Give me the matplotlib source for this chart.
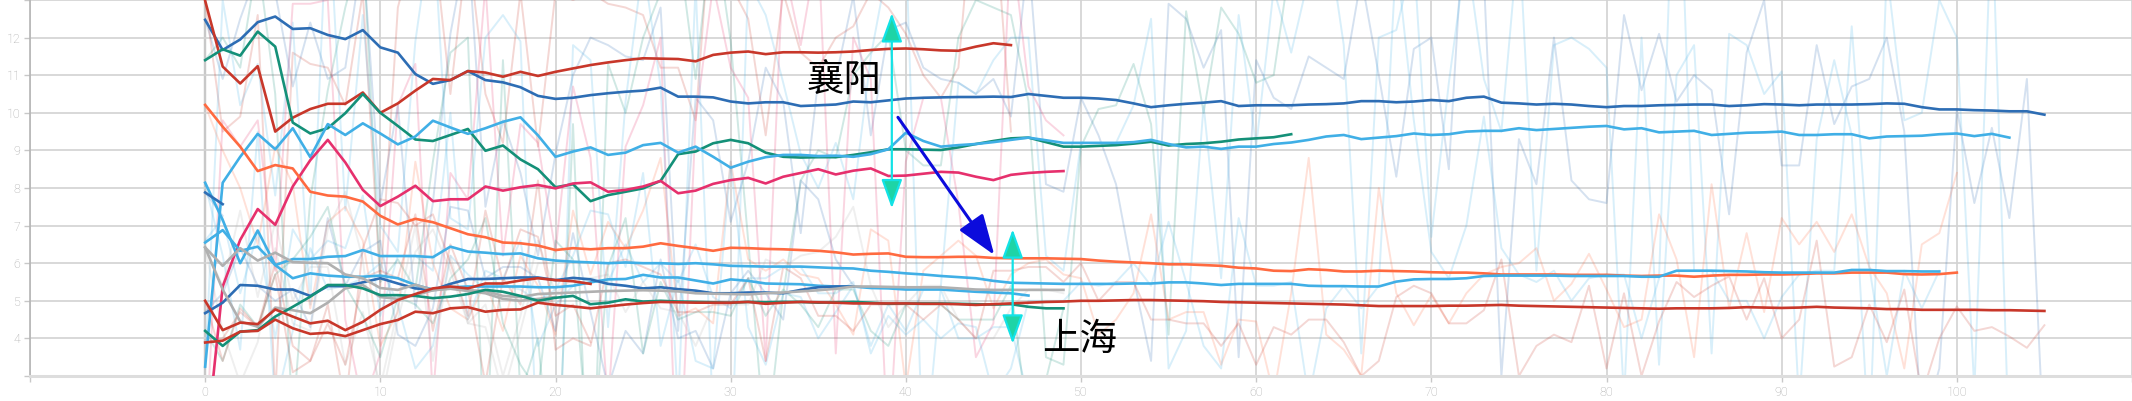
import matplotlib
matplotlib.use("Agg")
import matplotlib.pyplot as plt

# running averages (bold lines), one value per step
dark_blue = [12.47, 11.67, 11.95, 12.41, 12.56, 12.23, 12.25, 12.07, 11.96, 12.2,
             11.74, 11.6, 11.03, 10.77, 10.87, 11.11, 10.87, 10.81, 10.68, 10.45,
             10.37, 10.4, 10.47, 10.52, 10.56, 10.59, 10.67, 10.43, 10.43, 10.41,
             10.3, 10.25, 10.28, 10.28, 10.18, 10.2, 10.22, 10.3, 10.28, 10.33,
             10.38, 10.4, 10.41, 10.42, 10.42, 10.43, 10.42, 10.5, 10.45, 10.4,
             10.4, 10.38, 10.34, 10.25, 10.15, 10.2, 10.24, 10.27, 10.31, 10.18,
             10.2, 10.2, 10.2, 10.22, 10.23, 10.25, 10.31, 10.31, 10.28, 10.3,
             10.34, 10.31, 10.4, 10.43, 10.27, 10.25, 10.22, 10.24, 10.22, 10.18,
             10.15, 10.18, 10.18, 10.2, 10.21, 10.22, 10.22, 10.18, 10.2, 10.23,
             10.22, 10.2, 10.22, 10.22, 10.22, 10.23, 10.25, 10.24, 10.15, 10.09,
             10.09, 10.07, 10.06, 10.04, 10.04, 9.95]
red_top = [12.98, 11.23, 10.78, 11.24, 9.5, 9.87, 10.1, 10.24, 10.24, 10.54,
           10.0, 10.25, 10.59, 10.9, 10.87, 11.11, 11.07, 10.96, 11.09, 10.98,
           11.09, 11.18, 11.27, 11.34, 11.4, 11.45, 11.44, 11.43, 11.37, 11.54,
           11.6, 11.63, 11.56, 11.61, 11.61, 11.6, 11.61, 11.63, 11.67, 11.7,
           11.71, 11.69, 11.66, 11.65, 11.76, 11.85, 11.8]
green = [11.4, 11.69, 11.52, 12.16, 11.76, 9.74, 9.45, 9.59, 9.99, 10.5,
         10.0, 9.65, 9.29, 9.25, 9.41, 9.57, 8.99, 9.13, 8.76, 8.5,
         8.02, 8.1, 7.65, 7.81, 7.9, 7.99, 8.19, 8.9, 8.97, 9.19,
         9.28, 9.19, 8.94, 8.83, 8.81, 8.82, 8.82, 8.88, 8.95, 9.03,
         9.03, 9.02, 9.01, 9.08, 9.17, 9.25, 9.32, 9.34, 9.22, 9.1,
         9.1, 9.12, 9.14, 9.18, 9.23, 9.13, 9.17, 9.19, 9.23, 9.29,
         9.32, 9.35, 9.43]
light_blue = [3.25, 8.14, 8.83, 9.44, 9.03, 9.59, 8.82, 9.7, 9.41, 9.72,
              9.45, 9.16, 9.37, 9.79, 9.61, 9.44, 9.59, 9.76, 9.88, 9.4,
              8.83, 8.97, 9.08, 8.88, 8.94, 9.14, 9.2, 8.94, 9.1, 8.83,
              8.54, 8.7, 8.82, 8.88, 8.88, 8.85, 8.86, 8.83, 8.9, 9.03,
              9.47, 9.25, 9.1, 9.14, 9.17, 9.22, 9.28, 9.34, 9.27, 9.2,
              9.2, 9.2, 9.2, 9.22, 9.28, 9.17, 9.08, 9.1, 9.04, 9.1,
              9.1, 9.17, 9.21, 9.28, 9.37, 9.41, 9.3, 9.34, 9.38, 9.45,
              9.41, 9.43, 9.5, 9.52, 9.52, 9.59, 9.54, 9.57, 9.6, 9.63,
              9.65, 9.56, 9.59, 9.48, 9.5, 9.52, 9.41, 9.44, 9.47, 9.48,
              9.5, 9.41, 9.41, 9.43, 9.43, 9.32, 9.37, 9.38, 9.39, 9.43,
              9.45, 9.38, 9.44, 9.34]
pink = [0.9, 5.38, 6.62, 7.44, 7.02, 8.04, 8.74, 9.28, 8.68, 7.95,
        7.52, 7.77, 8.06, 7.65, 7.7, 7.7, 8.04, 7.93, 8.02, 8.08,
        7.99, 8.12, 8.15, 7.9, 7.95, 8.04, 8.19, 7.86, 7.93, 8.11,
        8.21, 8.27, 8.12, 8.3, 8.4, 8.5, 8.36, 8.46, 8.52, 8.32,
        8.33, 8.38, 8.43, 8.41, 8.3, 8.21, 8.35, 8.4, 8.43, 8.45]
orange = [10.21, 9.63, 9.1, 8.45, 8.61, 8.52, 7.9, 7.8, 7.77, 7.64,
          7.26, 7.03, 7.18, 7.09, 6.93, 6.77, 6.69, 6.55, 6.53, 6.47,
          6.35, 6.4, 6.37, 6.4, 6.4, 6.44, 6.53, 6.46, 6.4, 6.33,
          6.41, 6.4, 6.38, 6.37, 6.35, 6.33, 6.29, 6.23, 6.25, 6.26,
          6.17, 6.16, 6.16, 6.17, 6.17, 6.14, 6.13, 6.13, 6.13, 6.12,
          6.11, 6.07, 6.04, 6.02, 6.0, 5.97, 5.97, 5.95, 5.93, 5.88,
          5.86, 5.8, 5.79, 5.84, 5.82, 5.78, 5.78, 5.8, 5.79, 5.78,
          5.76, 5.75, 5.75, 5.73, 5.7, 5.7, 5.7, 5.7, 5.69, 5.69,
          5.69, 5.67, 5.66, 5.67, 5.67, 5.64, 5.67, 5.69, 5.69, 5.7,
          5.7, 5.71, 5.73, 5.73, 5.75, 5.75, 5.75, 5.71, 5.7, 5.71,
          5.75]
light_blue_2 = [6.55, 6.88, 6.33, 6.44, 5.95, 6.11, 6.11, 6.17, 6.19, 6.35,
                6.19, 6.19, 6.19, 6.16, 6.44, 6.31, 6.28, 6.24, 6.26, 6.13,
                6.07, 6.04, 6.02, 6.0, 6.02, 6.0, 6.0, 5.98, 6.0, 5.97,
                5.93, 5.92, 5.91, 5.91, 5.91, 5.89, 5.87, 5.86, 5.8, 5.77,
                5.73, 5.7, 5.66, 5.63, 5.6, 5.53, 5.48, 5.47, 5.46, 5.45,
                5.45, 5.45, 5.45, 5.46, 5.46, 5.49, 5.49, 5.46, 5.42, 5.45,
                5.45, 5.45, 5.45, 5.4, 5.39, 5.39, 5.38, 5.38, 5.51, 5.57,
                5.58, 5.58, 5.6, 5.66, 5.67, 5.67, 5.67, 5.67, 5.66, 5.66,
                5.66, 5.66, 5.64, 5.64, 5.8, 5.8, 5.8, 5.79, 5.78, 5.76,
                5.75, 5.75, 5.75, 5.75, 5.82, 5.82, 5.79, 5.79, 5.78, 5.78]
light_blue_3 = [8.14, 7.15, 6.0, 6.87, 5.95, 5.6, 5.73, 5.67, 5.64, 5.64,
                5.67, 5.6, 5.42, 5.3, 5.36, 5.38, 5.38, 5.38, 5.38, 5.36,
                5.36, 5.4, 5.49, 5.57, 5.58, 5.69, 5.62, 5.62, 5.54, 5.46,
                5.57, 5.53, 5.46, 5.45, 5.44, 5.4, 5.38, 5.38, 5.34, 5.33,
                5.3, 5.3, 5.3, 5.27, 5.24, 5.22, 5.2, 5.14]
dark_blue_2 = [4.67, 4.95, 5.42, 5.4, 5.3, 5.3, 5.13, 5.39, 5.39, 5.49,
               5.6, 5.46, 5.33, 5.29, 5.45, 5.58, 5.58, 5.6, 5.62, 5.62,
               5.55, 5.61, 5.57, 5.45, 5.4, 5.33, 5.36, 5.31, 5.27, 5.2,
               5.2, 5.22, 5.22, 5.2, 5.29, 5.36, 5.38, 5.38]
dark_blue_3 = [7.88, 7.57]
gray_a = [6.42, 5.93, 6.4, 6.07, 6.28, 6.03, 6.01, 6.0, 5.7, 5.6,
          5.34, 5.29, 5.43, 5.28, 5.34, 5.28, 5.26, 5.13, 5.1, 5.18,
          5.2, 5.22, 5.24, 5.26, 5.27, 5.28, 5.27, 5.25, 5.2, 5.19,
          5.18, 5.17, 5.2, 5.22, 5.25, 5.28, 5.32, 5.38, 5.38, 5.37,
          5.36, 5.36, 5.36, 5.33, 5.3, 5.29, 5.29, 5.29, 5.29, 5.29]
gray_b = [6.42, 5.3, 4.45, 4.31, 4.82, 4.75, 4.67, 4.95, 5.33, 5.42,
          5.1, 5.05, 5.15, 5.28, 5.32, 5.26, 5.2, 5.05, 5.0, 5.05, 5.1]
green_low = [4.2, 3.8, 4.18, 4.22, 4.58, 4.84, 5.11, 5.42, 5.42, 5.33,
             5.15, 5.15, 5.13, 5.07, 5.11, 5.18, 5.29, 5.24, 5.13, 5.0,
             5.08, 5.13, 4.91, 4.95, 5.04, 4.98, 5.0, 4.98, 4.97, 4.96,
             4.95, 4.97, 4.96, 4.97, 4.97, 4.95, 4.96, 4.97, 4.95, 4.92,
             4.93, 4.93, 4.93, 4.92, 4.91, 4.9, 4.91, 4.84, 4.8, 4.8]
red_low_1 = [5.0, 4.22, 4.42, 4.38, 4.77, 4.58, 4.4, 4.47, 4.22, 4.44,
             4.76, 5.02, 5.18, 5.33, 5.38, 5.33, 5.46, 5.46, 5.54, 5.6,
             5.55, 5.52, 5.45]
red_low_2 = [3.89, 3.94, 4.18, 4.2, 4.5, 4.27, 4.12, 4.15, 4.06, 4.22,
             4.38, 4.49, 4.71, 4.67, 4.8, 4.83, 4.71, 4.76, 4.77, 4.95,
             4.89, 4.85, 4.8, 4.85, 4.9, 4.94, 4.97, 4.96, 4.95, 4.95,
             4.95, 4.97, 4.92, 4.95, 4.97, 4.96, 4.95, 4.93, 4.93, 4.93,
             4.93, 4.92, 4.92, 4.91, 4.89, 4.91, 4.93, 4.95, 4.97, 4.98,
             5.0, 5.0, 5.01, 5.02, 5.02, 5.01, 5.0, 4.99, 4.97, 4.96,
             4.95, 4.94, 4.93, 4.92, 4.91, 4.9, 4.88, 4.86, 4.86, 4.86,
             4.86, 4.87, 4.87, 4.88, 4.89, 4.87, 4.86, 4.85, 4.84, 4.83,
             4.82, 4.81, 4.8, 4.79, 4.8, 4.8, 4.8, 4.81, 4.83, 4.82,
             4.81, 4.82, 4.84, 4.82, 4.81, 4.8, 4.78, 4.78, 4.76, 4.76,
             4.76, 4.76, 4.75, 4.75, 4.74, 4.73]

# raw values (faint lines)
raw_dark_blue = [12.5, 10.9, 12.5, 13.8, 13.2, 10.7, 12.4, 10.9, 11.2, 14.3,
                 7.6, 10.2, 4.8, 7.6, 12.1, 14.6, 7.5, 9.8, 8.4, 6.2,
                 8.9, 11.0, 12.0, 11.8, 11.5, 11.4, 12.8, 4.2, 10.4, 9.8,
                 7.1, 8.7, 11.2, 10.3, 6.8, 10.9, 10.9, 13.1, 9.4, 12.2,
                 12.4, 11.2, 10.9, 10.8, 10.5, 10.9, 9.9, 14.2, 8.1, 7.9,
                 10.4, 9.4, 8.1, 5.6, 3.4, 12.9, 12.5, 11.2, 12.2, 3.5,
                 11.4, 10.4, 10.1, 11.5, 11.2, 10.9, 13.6, 11.0, 8.3, 11.7,
                 12.0, 8.5, 16.2, 13.6, 3.0, 9.3, 8.1, 12.0, 8.2, 7.7,
                 7.6, 12.6, 10.6, 12.1, 10.3, 11.0, 10.6, 7.3, 11.6, 13.0,
                 8.6, 8.6, 11.8, 9.7, 10.7, 10.9, 12.0, 9.5, 1.5, 3.2,
                 10.1, 7.6, 9.6, 7.2, 10.9, 0.8]
raw_red_top = [12.98, 9.5, 9.9, 12.6, 2.5, 11.6, 11.3, 11.2, 10.2, 13.2,
               5.4, 12.8, 14.6, 14.8, 10.5, 14.5, 10.5, 9.2, 13.2, 9.1,
               13.2, 13.0, 13.2, 12.9, 12.8, 12.6, 11.2, 11.2, 9.8, 16.0,
               13.4, 12.5, 9.4, 13.2, 11.6, 11.2, 12.0, 12.3, 13.2, 12.8,
               12.1, 11.0, 10.4, 11.2, 16.5, 15.8, 9.5]
raw_green = [11.4, 12.0, 11.2, 14.1, 10.5, 1.8, 7.7, 10.6, 12.8, 14.6,
             5.5, 6.1, 5.3, 8.7, 11.6, 12.0, 0.3, 11.4, 2.5, 4.0,
             -1.0, 9.7, -1.8, 11.3, 10.0, 12.0, 13.2, 14.5, 10.9, 15.2,
             11.9, 6.6, 1.0, 5.2, 8.2, 9.0, 8.8, 11.0, 11.6, 12.1,
             9.0, 8.6, 8.6, 12.0, 13.0, 12.8, 12.6, 10.3, 3.5, 3.3,
             9.1, 10.1, 10.2, 11.3, 9.7, 4.1, 12.7, 10.0, 12.8, 12.1,
             10.8, 11.0, 14.2]
raw_light_blue = [3.2, 13.0, 10.2, 11.3, 7.8, 12.4, 4.9, 15.9, 7.4, 12.6,
                  7.0, 6.3, 11.9, 15.2, 7.2, 6.9, 12.0, 12.6, 11.9, 0.5,
                  -2.6, 11.8, 11.4, 4.3, 10.3, 14.0, 10.7, 2.2, 13.4, 1.8,
                  0.2, 13.5, 12.6, 10.8, 8.9, 8.0, 9.2, 7.7, 11.5, 14.0,
                  14.5, 0.4, 5.4, 10.8, 10.5, 11.4, 12.0, 12.0, 6.2, 5.8,
                  9.2, 9.2, 9.2, 10.2, 12.5, 3.2, 4.2, 10.2, 5.6, 12.6,
                  9.1, 13.3, 11.6, 13.6, 15.0, 11.8, 3.6, 12.0, 12.2, 14.2,
                  6.7, 10.8, 14.3, 10.9, 9.5, 14.8, 5.8, 11.8, 12.0, 11.7,
                  11.2, 2.4, 12.0, 3.3, 11.0, 11.8, 3.6, 12.1, 11.8, 10.5,
                  11.1, 2.2, 9.3, 11.4, 9.4, 1.1, 13.8, 9.8, 10.0, 13.0,
                  12.0, 2.6, 15.5, 0.8]
raw_pink = [0.9, 9.8, 9.1, 9.8, 5.8, 12.9, 12.9, 13.0, 4.5, 2.2,
            3.6, 10.2, 11.3, 2.4, 8.4, 7.7, 13.4, 6.2, 9.7, 9.2,
            6.3, 10.7, 8.8, 2.2, 9.1, 10.2, 12.0, -0.7, 9.8, 13.4,
            11.2, 10.4, 3.4, 14.0, 11.8, 14.5, 3.6, 12.0, 10.9, 0.9,
            8.7, 10.4, 10.4, 7.6, 3.5, 4.4, 14.7, 10.7, 9.8, 9.4]
raw_orange = [10.2, 9.0, 8.0, 6.5, 9.1, 8.1, 4.8, 7.1, 7.5, 6.6,
              3.8, 4.7, 8.7, 6.0, 4.8, 4.5, 5.5, 4.2, 6.2, 5.4,
              4.1, 7.4, 5.7, 7.1, 6.4, 7.4, 8.8, 4.6, 4.8, 4.4,
              8.7, 6.1, 5.8, 6.1, 5.7, 5.6, 4.9, 4.1, 6.9, 6.6,
              2.7, 5.8, 6.2, 6.6, 6.2, 4.8, 5.7, 6.0, 6.1, 5.7,
              5.6, 4.1, 4.5, 5.2, 7.3, 4.5, 4.7, 4.7, 3.3, 4.5,
              4.45, 2.5, 5.2, 8.8, 4.1, 3.7, 3.0, 8.0, 5.2, 4.35,
              5.15, 4.4, 5.2, 5.7, 5.9, 6.0, 6.4, 5.0, 5.45, 6.25,
              5.3, 4.3, 4.5, 7.3, 6.1, 3.5, 8.1, 4.8, 6.8, 4.7,
              7.2, 6.5, 7.1, 6.3, 7.3, 5.9, 5.2, 3.2, 6.5, 6.8,
              8.4]
raw_light_blue_2 = [6.6, 7.2, 5.2, 6.8, 4.0, 6.9, 6.1, 6.6, 6.4, 7.8,
                    4.6, 6.2, 6.2, 5.8, 10.0, 4.5, 5.8, 5.6, 6.6, 3.8,
                    4.9, 5.4, 5.6, 5.5, 6.5, 5.5, 6.0, 5.5, 6.5, 5.1,
                    4.8, 5.6, 5.6, 5.9, 5.9, 5.2, 5.2, 5.5, 3.6, 4.6,
                    4.1, 4.5, 4.0, 4.4, 4.3, 2.5, 3.2, 5.0, 5.0, 5.0,
                    5.5, 5.4, 5.5, 6.0, 5.4, 7.1, 5.5, 3.8, 3.2, 7.2,
                    5.4, 5.4, 5.5, 2.4, 4.8, 5.4, 4.8, 5.4, 14.2, 9.8,
                    6.3, 5.6, 7.0, 9.9, 6.4, 5.7, 5.5, 5.8, 5.0, 5.6,
                    5.7, 5.7, 4.0, 5.6, 19.0, 5.8, 5.8, 5.0, 5.0, 4.0,
                    5.1, 5.7, 5.8, 5.8, 12.3, 5.9, 3.0, 5.8, 4.8, 5.8]
raw_light_blue_3 = [8.1, 6.2, 3.7, 9.5, 2.2, 4.2, 6.4, 5.3, 5.4, 5.6,
                    6.0, 4.9, 3.2, 3.8, 6.2, 5.7, 5.3, 5.4, 5.3, 5.0,
                    5.3, 6.2, 7.4, 7.3, 5.9, 8.4, 3.8, 5.6, 3.4, 3.2,
                    8.7, 4.3, 3.3, 5.2, 5.1, 4.0, 4.7, 5.4, 3.8, 4.9,
                    4.2, 5.3, 5.3, 4.0, 4.0, 4.3, 4.3, 2.4]
raw_dark_blue_2 = [4.7, 5.2, 6.4, 5.4, 5.0, 5.3, 4.3, 7.2, 5.4, 6.3,
                   6.6, 4.1, 3.8, 4.8, 7.5, 7.4, 5.6, 5.9, 5.9, 5.6,
                   4.2, 6.8, 4.7, 2.7, 4.2, 3.6, 6.1, 4.0, 4.2, 3.2,
                   5.2, 5.8, 5.2, 4.5, 8.2, 7.7, 6.1, 5.4]
raw_dark_blue_3 = [7.88, 7.26]
raw_gray_a = [6.4, 5.4, 7.4, 5.1, 7.1, 5.0, 5.9, 5.9, 3.3, 4.7,
              2.7, 4.8, 7.0, 3.4, 6.2, 4.4, 4.9, 3.0, 4.6, 6.6,
              5.2, 5.6, 5.6, 5.7, 4.7, 5.5, 4.8, 4.7, 3.8, 4.9,
              4.9, 4.9, 6.1, 5.9, 6.2, 6.3, 6.7, 7.5, 5.4, 4.3,
              4.9, 5.4, 5.4, 4.5, 4.0, 4.0, 4.8, 5.3, 5.3, 5.2]
raw_gray_b = [6.4, 4.2, 2.8, 3.9, 6.4, 4.4, 4.2, 6.9, 7.9, 6.1,
              2.2, 4.5, 6.3, 6.9, 5.8, 4.4, 4.3, 2.5, 4.2, 6.0, 6.0]
raw_green_low = [4.2, 3.4, 4.9, 4.3, 5.7, 6.1, 6.7, 7.5, 5.4, 4.6,
                 3.5, 5.1, 4.9, 4.4, 5.6, 6.1, 7.2, 4.4, 3.3, 2.6,
                 6.6, 6.1, 0.3, 5.9, 7.2, 3.6, 5.5, 4.5, 4.7, 4.7,
                 4.6, 5.6, 4.6, 5.3, 4.9, 4.3, 5.3, 5.3, 4.2, 3.8,
                 4.9, 4.9, 4.9, 4.5, 4.5, 4.5, 5.4, 1.6, 2.9, 4.8]
raw_red_low_1 = [5.0, 3.4, 4.8, 4.3, 6.0, 3.8, 3.4, 4.9, 2.2, 6.4,
                 7.7, 7.6, 7.0, 7.3, 6.0, 4.6, 7.4, 5.5, 6.9, 6.7,
                 4.6, 4.9, 3.9]
raw_red_low_2 = [3.9, 4.0, 4.7, 4.3, 5.7, 3.1, 3.4, 4.4, 3.3, 5.6,
                 5.8, 5.6, 7.3, 4.2, 6.5, 5.3, 2.8, 5.6, 4.9, 8.2,
                 3.7, 4.0, 3.8, 6.0, 6.1, 5.9, 5.7, 4.7, 4.7, 4.9,
                 4.9, 5.6, 3.4, 5.9, 5.6, 4.6, 4.6, 4.2, 4.9, 4.9,
                 4.9, 4.5, 4.9, 4.5, 4.0, 5.8, 5.8, 5.9, 5.9, 5.5,
                 6.0, 5.0, 5.5, 5.5, 4.5, 4.5, 4.4, 4.4, 3.8, 4.4,
                 3.3, 4.3, 4.1, 4.5, 4.5, 3.9, 3.0, 3.4, 5.1, 5.4,
                 5.2, 4.4, 4.4, 4.75, 6.1, 3.0, 3.8, 4.1, 3.9, 5.4,
                 3.2, 5.2, 3.0, 4.45, 5.5, 5.1, 5.4, 5.65, 4.5, 5.6,
                 4.0, 4.5, 6.6, 3.25, 3.5, 4.9, 3.9, 5.3, 2.5, 4.0,
                 4.85, 4.2, 4.3, 4.05, 3.75, 4.35]

x_ticks = [-10, 0, 10, 20, 30, 40, 50, 60, 70, 80, 90, 100, 110]
x_labels = ["", "0", "10", "20", "30", "40", "50", "60", "70", "80", "90", "100", ""]
y_ticks = [3, 4, 5, 6, 7, 8, 9, 10, 11, 12, 13]
y_labels = ["", "4", "5", "6", "7", "8", "9", "10", "11", "12", ""]

DBLUE = "#2d6db4"
LBLUE = "#40afe6"
GREEN = "#149078"
RED = "#c8372a"
ORANGE = "#ff6a40"
PINK = "#e6306d"
GRAY = "#b0b0b0"

series = [
    (raw_dark_blue, dark_blue, DBLUE),
    (raw_red_top, red_top, RED),
    (raw_green, green, GREEN),
    (raw_light_blue, light_blue, LBLUE),
    (raw_pink, pink, PINK),
    (raw_orange, orange, ORANGE),
    (raw_light_blue_2, light_blue_2, LBLUE),
    (raw_light_blue_3, light_blue_3, LBLUE),
    (raw_dark_blue_2, dark_blue_2, DBLUE),
    (raw_dark_blue_3, dark_blue_3, DBLUE),
    (raw_gray_a, gray_a, GRAY),
    (raw_gray_b, gray_b, GRAY),
    (raw_green_low, green_low, GREEN),
    (raw_red_low_1, red_low_1, RED),
    (raw_red_low_2, red_low_2, RED),
]

fig = plt.figure(figsize=(21.32, 4.01), dpi=100)
ax = fig.add_axes([30 / 2132, 25 / 401, 2102 / 2132, 376 / 401])

for raw, avg, col in series:
    ax.plot(range(len(raw)), raw, color=col, alpha=0.2, lw=1.4, zorder=2)
for raw, avg, col in series:
    ax.plot(range(len(avg)), avg, color=col, lw=1.9, zorder=4)

ax.set_xlim(-10, 110)
ax.set_ylim(3, 13)
ax.set_xticks(x_ticks)
ax.set_xticklabels(x_labels)
ax.set_yticks(y_ticks)
ax.set_yticklabels(y_labels)
ax.grid(True, color="#d2d2d2", lw=1.2, zorder=0)
ax.axvline(0, color="#9a9a9a", lw=1.6, zorder=1)
for side in ["top", "right"]:
    ax.spines[side].set_visible(False)
ax.spines["left"].set_color("#b5b5b5")
ax.spines["left"].set_linewidth(1.2)
ax.spines["bottom"].set_color("#dddddd")
ax.spines["bottom"].set_linewidth(2.2)
ax.tick_params(axis="both", colors="#c8c8c8", length=4, width=1,
               labelcolor="#a8a8a8", labelsize=9, pad=3)
for lab in ax.get_xticklabels() + ax.get_yticklabels():
    lab.set_family("Roboto")
    lab.set_fontweight("light")

cjk = ["Noto Sans CJK SC", "DejaVu Sans"]
ax.text(36.5, 10.87, "襄阳", fontsize=27, family=cjk, ha="center", va="center",
        color="black", zorder=6)
ax.text(49.9, 3.96, "上海", fontsize=27, family=cjk, ha="center", va="center",
        color="black", zorder=6)

double = dict(arrowstyle="<|-|>,head_length=1.8,head_width=0.65", fc="#1ed4a6",
              ec="#12e2e6", lw=1.6, shrinkA=0, shrinkB=0, mutation_scale=10)
ax.annotate("", xy=(39.2, 12.65), xytext=(39.2, 7.46), arrowprops=double, zorder=7)
ax.annotate("", xy=(46.1, 6.9), xytext=(46.1, 3.86), arrowprops=double, zorder=7)
ax.annotate("", xy=(45.05, 6.22), xytext=(39.55, 9.88),
            arrowprops=dict(arrowstyle="-|>,head_length=2.5,head_width=0.9",
                            fc="#0b0bdc", ec="#0b0bdc", lw=2.2, shrinkA=0,
                            shrinkB=0, mutation_scale=10), zorder=7)

fig.savefig("out.png", dpi=100)
